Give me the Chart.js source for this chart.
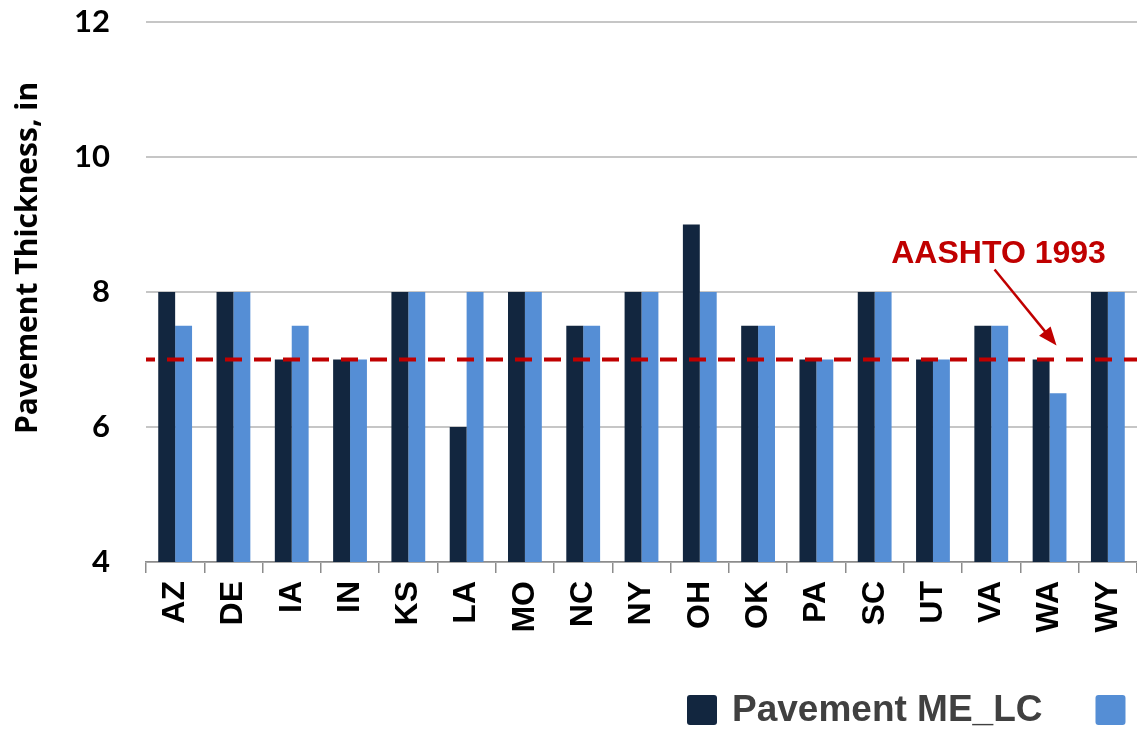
<!DOCTYPE html>
<html>
<head>
<meta charset="utf-8">
<script src="https://cdn.jsdelivr.net/npm/chart.js@4"></script>
<style>
  html, body { margin: 0; padding: 0; background: #fff; overflow: hidden; }
  #wrap { width: 1137px; height: 731px; position: relative; }
</style>
</head>
<body>
<div id="wrap"><canvas id="thickChart"></canvas></div>
<script>
/* ------------------------------
 data
---------------------------------*/
var states = ["AZ", "DE", "IA", "IN", "KS", "LA", "MO", "NC", "NY", "OH", "OK", "PA", "SC", "UT", "VA", "WA", "WY"];
var meLC = [8, 8, 7, 7, 8, 6, 8, 7.5, 8, 9, 7.5, 7, 8, 7, 7.5, 7, 8];
var meOther = [7.5, 8, 7.5, 7, 8, 8, 8, 7.5, 8, 8, 7.5, 7, 8, 7, 7.5, 6.5, 8];
var yTicks = [4, 6, 8, 10, 12];
var aashto = 7;
var aashtoLabel = "AASHTO 1993";
var yTitle = "Pavement Thickness, in";
var seriesNames = ["Pavement ME_LC", "Pavement ME_GC"];

/*------------------------------------
* reference line + note
------------------------------------ */
var refLine = {
  id: "refLine",
  afterDatasetsDraw: function (chart) {
    var ctx = chart.ctx, area = chart.chartArea;
    var y = chart.scales.y.getPixelForValue(aashto);
    var x = chart.scales.x.getPixelForValue(states.indexOf("WA"));
    ctx.save();
    ctx.strokeStyle = "#c00000";
    ctx.lineWidth = 4;
    ctx.setLineDash([17, 12]);
    ctx.lineDashOffset = 8;
    ctx.beginPath();
    ctx.moveTo(area.left, y);
    ctx.lineTo(area.right, y);
    ctx.stroke();
    ctx.setLineDash([]);

    // arrow
    var x0 = x - 55, y0 = y - 90, x1 = x + 7, y1 = y - 14;
    var a = Math.atan2(y1 - y0, x1 - x0);
    ctx.lineWidth = 2.5;
    ctx.beginPath();
    ctx.moveTo(x0, y0);
    ctx.lineTo(x1 - 6 * Math.cos(a), y1 - 6 * Math.sin(a));
    ctx.stroke();
    ctx.fillStyle = "#c00000";
    ctx.beginPath();
    ctx.moveTo(x1, y1);
    ctx.lineTo(x1 - 20 * Math.cos(a - 0.38), y1 - 20 * Math.sin(a - 0.38));
    ctx.lineTo(x1 - 20 * Math.cos(a + 0.38), y1 - 20 * Math.sin(a + 0.38));
    ctx.closePath();
    ctx.fill();

    ctx.font = "bold 32px 'Liberation Sans', Arial, sans-serif";
    ctx.textAlign = "center";
    ctx.textBaseline = "middle";
    ctx.fillText(aashtoLabel, x - 51, y - 105);
    ctx.restore();
  }
};

/*------------------------------------
* y title (sits above centre, like the original)
------------------------------------ */
var sideTitle = {
  id: "sideTitle",
  afterDraw: function (chart) {
    var ctx = chart.ctx;
    ctx.save();
    ctx.translate(28, 258);
    ctx.rotate(-Math.PI / 2);
    ctx.font = "bold 30px 'Open Sans', Lato, sans-serif";
    ctx.fillStyle = "#000";
    ctx.textAlign = "center";
    ctx.textBaseline = "middle";
    ctx.fillText(yTitle, 0, 0);
    ctx.restore();
  }
};

/*------------------------------------
* legend (runs off the right edge like the original)
------------------------------------ */
var bottomLegend = {
  id: "bottomLegend",
  afterDraw: function (chart) {
    var ctx = chart.ctx;
    var x = 687, top = 695;
    ctx.save();
    ctx.font = "bold 37px 'Liberation Sans', Arial, sans-serif";
    ctx.textBaseline = "middle";
    chart.data.datasets.forEach(function (ds) {
      ctx.fillStyle = ds.backgroundColor;
      ctx.beginPath();
      ctx.roundRect(x, top, 30, 30, 3);
      ctx.fill();
      ctx.fillStyle = "#404040";
      ctx.fillText(ds.label, x + 45, top + 16);
      x += 45 + ctx.measureText(ds.label).width + 53;
    });
    ctx.restore();
  }
};

if (document.getElementById("thickChart")) {
  var ChartT = new Chart(document.getElementById("thickChart"), {
    type: "bar",
    data: {
      labels: states,
      datasets: [
        {
          label: seriesNames[0],
          data: meLC,
          backgroundColor: "#12263f",
          borderWidth: 0,
          categoryPercentage: 0.58,
          barPercentage: 1,
        },
        {
          label: seriesNames[1],
          data: meOther,
          backgroundColor: "#558ed5",
          borderWidth: 0,
          categoryPercentage: 0.58,
          barPercentage: 1,
        },
      ],
    },
    options: {
      responsive: true,
      maintainAspectRatio: false,
      animation: false,
      layout: { padding: { top: 22, right: 0, left: 0, bottom: 0 } },
      plugins: {
        legend: { display: false },
        tooltip: { enabled: false },
      },
      scales: {
        x: {
          grid: {
            offset: true,
            drawOnChartArea: false,
            drawTicks: true,
            tickLength: 11,
            color: "#8c8c8c",
            lineWidth: 1.5,
          },
          border: { color: "#8c8c8c", width: 1.5 },
          ticks: {
            minRotation: 90,
            maxRotation: 90,
            padding: 8,
            color: "#000",
            font: { family: "'Liberation Sans', Arial, sans-serif", size: 32, weight: "bold" },
          },
          afterFit: function (s) { s.height = 169; s.paddingLeft = 0; s.paddingRight = 0; },
        },
        y: {
          min: 4,
          max: 12,
          afterBuildTicks: function (s) { s.ticks = yTicks.map(function (v) { return { value: v }; }); },
          grid: { color: "#c6c6c6", lineWidth: 2, drawTicks: false },
          border: { display: false },
          ticks: {
            padding: 36,
            color: "#000",
            font: { family: "Lato, 'Open Sans', sans-serif", size: 31, weight: "bold" },
          },
          afterFit: function (s) { s.width = 146; s.paddingTop = 0; s.paddingBottom = 0; },
        },
      },
    },
    plugins: [refLine, sideTitle, bottomLegend],
  });
}
</script>
</body>
</html>
